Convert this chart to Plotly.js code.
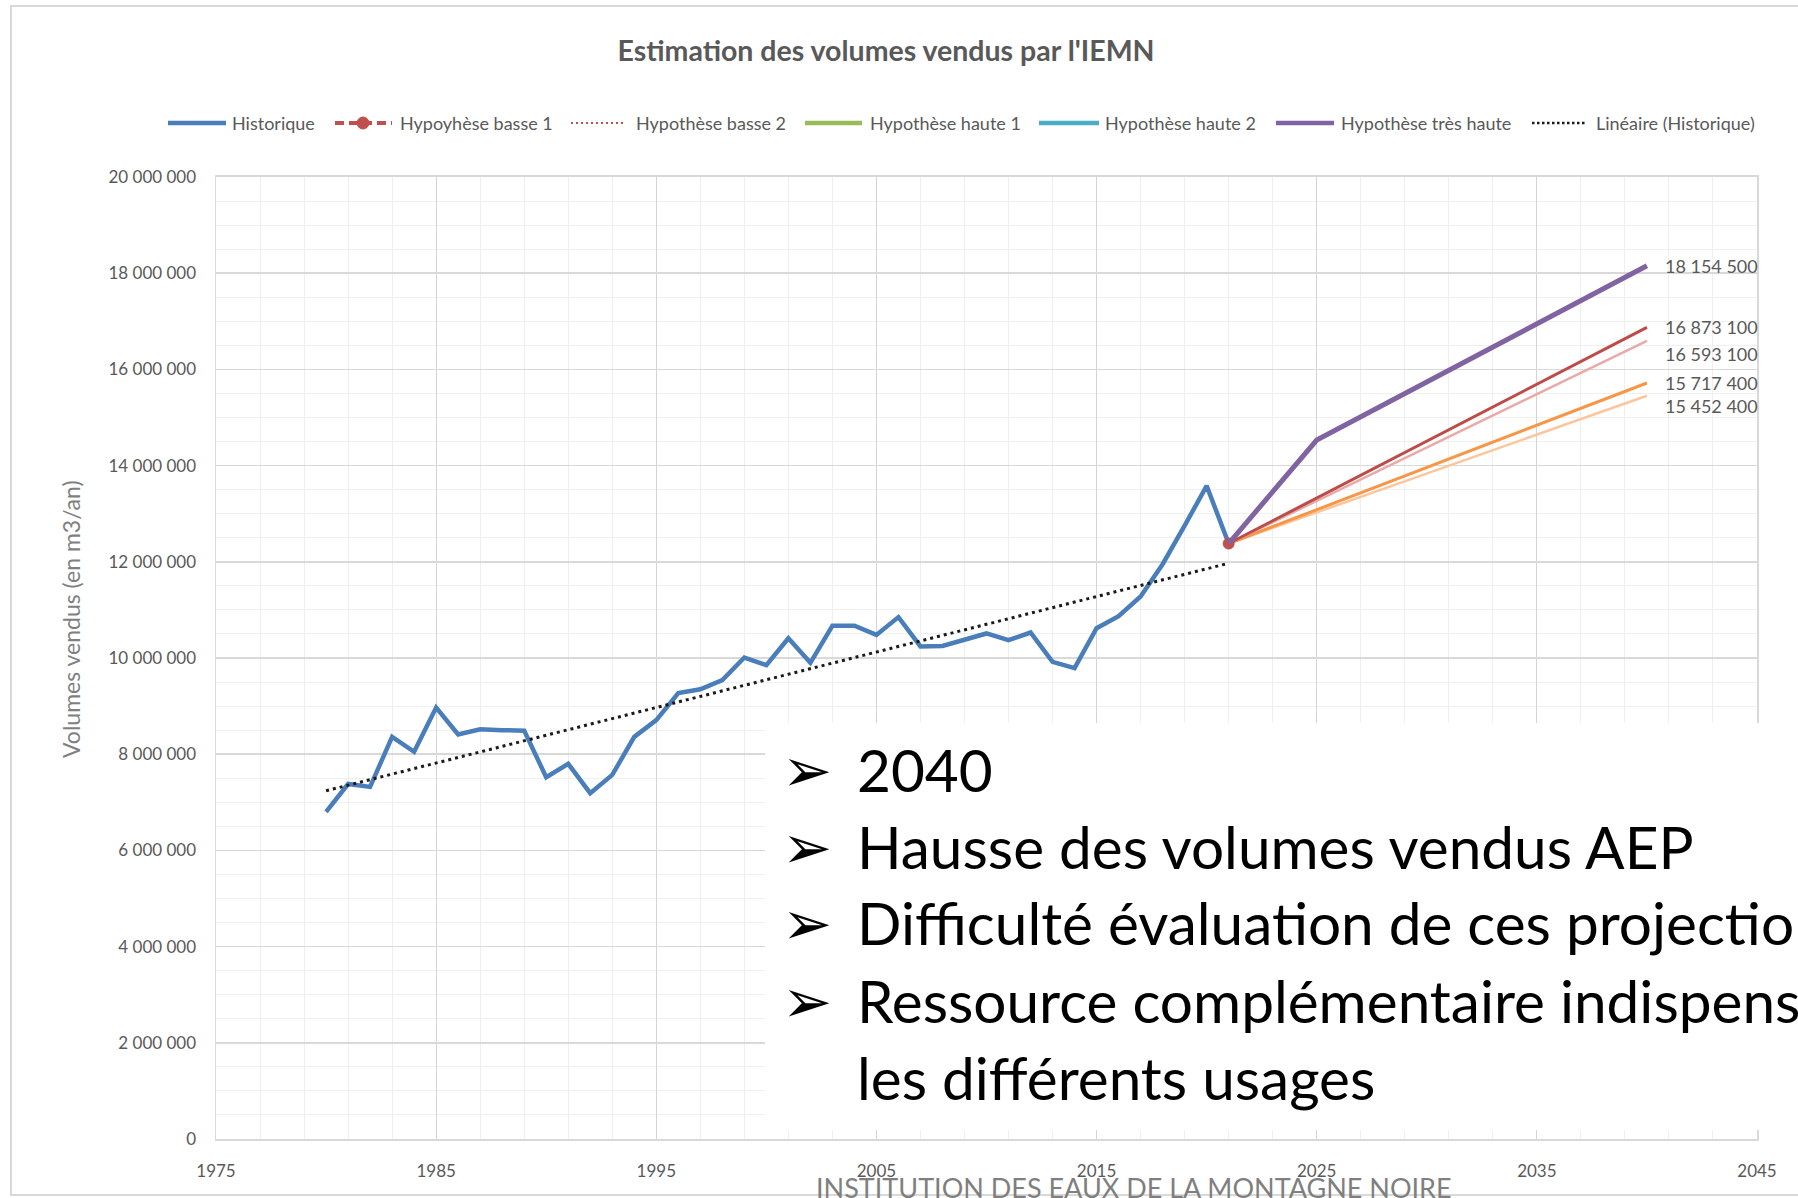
<!DOCTYPE html>
<html>
<head>
<meta charset="utf-8">
<script src="https://cdn.plot.ly/plotly-3.0.1.min.js"></script>
<style>html,body{margin:0;padding:0;overflow:hidden;background:#fff}#chart{width:1798px;height:1198px}</style>
</head>
<body>
<div id="chart"></div>
<script>
// ---------- DATA ----------
const histYears = [1980,1981,1982,1983,1984,1985,1986,1987,1988,1989,1990,1991,1992,1993,1994,1995,1996,1997,1998,1999,2000,2001,2002,2003,2004,2005,2006,2007,2008,2009,2010,2011,2012,2013,2014,2015,2016,2017,2018,2019,2020,2021];
const historique = [6800000,7380000,7320000,8360000,8050000,8970000,8410000,8520000,8500000,8490000,7520000,7800000,7190000,7570000,8360000,8710000,9270000,9350000,9540000,10010000,9850000,10410000,9900000,10670000,10670000,10480000,10850000,10240000,10250000,10390000,10510000,10370000,10530000,9920000,9790000,10620000,10870000,11280000,11950000,12750000,13580000,12380000];
const trendYears = [1980, 2021];
const trendValues = [7240000, 11970000];
const tresHauteYears = [2021, 2025, 2040];
const tresHaute = [12380000, 14530000, 18154500];
const scenarioYears = [2021, 2040];
const scenarioA = [12380000, 16873100];
const scenarioB = [12380000, 16593100];
const scenarioC = [12380000, 15717400];
const scenarioD = [12380000, 15452400];
const startYear = [2021];
const startValue = [12380000];
const legendNames = ['Historique','Hypoyhèse basse 1','Hypothèse basse 2','Hypothèse haute 1','Hypothèse haute 2','Hypothèse très haute','Linéaire (Historique)'];
const bullets = ['2040','Hausse des volumes vendus AEP','Difficulté évaluation de ces projections','Ressource complémentaire indispensable pour','les différents usages'];
const chartTitle = "Estimation des volumes vendus par l'IEMN";
const yTitle = 'Volumes vendus (en m3/an)';
const footer = 'INSTITUTION DES EAUX DE LA MONTAGNE NOIRE';

// ---------- LAYOUT HELPERS ----------
const L = 216, R = 1757, T = 177, B = 1139;
const pX = p => (p - L) / (R - L);
const pY = p => (B - p) / (B - T);
const fmt = v => String(v).replace(/\B(?=(\d{3})+(?!\d))/g, ' ');
const FONT = 'Lato, "Open Sans", sans-serif';
const GRAY = '#595959';

const traces = [
  {x: histYears, y: historique, mode: 'lines', line: {color: '#4a7ebb', width: 4.5}, showlegend: false, hoverinfo: 'x+y'},
  {x: trendYears, y: trendValues, mode: 'lines', line: {color: '#1a1a1a', width: 3, dash: '3px,4px'}, showlegend: false},
  {x: scenarioYears, y: scenarioD, mode: 'lines', line: {color: '#fbc69d', width: 2.5}, showlegend: false},
  {x: scenarioYears, y: scenarioC, mode: 'lines', line: {color: '#f79646', width: 3}, showlegend: false},
  {x: scenarioYears, y: scenarioB, mode: 'lines', line: {color: '#e8aaa8', width: 2.5}, showlegend: false},
  {x: scenarioYears, y: scenarioA, mode: 'lines', line: {color: '#be4b48', width: 3}, showlegend: false},
  {x: startYear, y: startValue, mode: 'markers', marker: {color: '#c0504d', size: 11, line: {color: '#c0504d', width: 1}}, showlegend: false},
  {x: tresHauteYears, y: tresHaute, mode: 'lines', line: {color: '#8064a2', width: 5}, showlegend: false}
];

// value labels at 2040
const endLabels = [
  {v: tresHaute[2], s: 0}, {v: scenarioA[1], s: 0}, {v: scenarioB[1], s: -13},
  {v: scenarioC[1], s: 0}, {v: scenarioD[1], s: -10}
];

const annotations = [];
endLabels.forEach(o => annotations.push({
  x: 2040, y: o.v, xref: 'x', yref: 'y', text: fmt(o.v), showarrow: false,
  xanchor: 'left', yanchor: 'middle', xshift: 16, yshift: o.s,
  font: {family: FONT, size: 18, color: GRAY}
}));

// y-axis title
annotations.push({x: pX(71), y: pY(619), xref: 'paper', yref: 'paper', text: yTitle, textangle: -90,
  showarrow: false, xanchor: 'center', yanchor: 'middle', font: {family: FONT, size: 23, color: '#7f7f7f'}});

// manual legend
const legStyle = [
  {x0: 168, x1: 226, tx: 230, color: '#4a7ebb', width: 4.5, dash: 'solid'},
  {x0: 335, x1: 392, tx: 398, color: '#c0504d', width: 4, dash: '9px,5px', marker: 363},
  {x0: 571, x1: 625, tx: 634, color: '#c0504d', width: 2, dash: '2px,3px'},
  {x0: 805, x1: 862, tx: 868, color: '#9bbb59', width: 4.5, dash: 'solid'},
  {x0: 1039, x1: 1099, tx: 1103, color: '#4bacc6', width: 4.5, dash: 'solid'},
  {x0: 1276, x1: 1334, tx: 1339, color: '#8064a2', width: 4.5, dash: 'solid'},
  {x0: 1532, x1: 1586, tx: 1594, color: '#1a1a1a', width: 2.5, dash: '2.5px,2.5px'}
];
const LEGY = 123;
const shapes = [];
legStyle.forEach((s, i) => {
  shapes.push({type: 'line', xref: 'paper', yref: 'paper', x0: pX(s.x0), x1: pX(s.x1), y0: pY(LEGY), y1: pY(LEGY),
    line: {color: s.color, width: s.width, dash: s.dash}});
  if (s.marker) shapes.push({type: 'circle', xref: 'paper', yref: 'paper', x0: pX(s.marker - 6), x1: pX(s.marker + 6),
    y0: pY(LEGY + 6), y1: pY(LEGY - 6), fillcolor: s.color, line: {color: s.color, width: 1}});
  annotations.push({x: pX(s.tx), y: pY(LEGY), xref: 'paper', yref: 'paper', text: legendNames[i], showarrow: false,
    xanchor: 'left', yanchor: 'middle', font: {family: FONT, size: 18, color: GRAY}});
});

// outer border of chart
shapes.push({type: 'rect', xref: 'paper', yref: 'paper', x0: pX(11), x1: pX(1820), y0: pY(1195), y1: pY(6),
  line: {color: '#d9d9d9', width: 2}, fillcolor: 'rgba(0,0,0,0)', layer: 'below'});
// white text box over the plot
shapes.push({type: 'rect', xref: 'paper', yref: 'paper', x0: pX(765), x1: pX(1820), y0: pY(1130), y1: pY(723),
  line: {width: 0}, fillcolor: '#ffffff', layer: 'above'});

// bullets
const bulletBase = [791, 868, 944, 1022, 1099];
bullets.forEach((t, i) => {
  const yc = bulletBase[i] - 22;
  if (i < 4) annotations.push({x: pX(807), y: pY(yc + 1), xref: 'paper', yref: 'paper', text: '\u27A2', showarrow: false,
    xanchor: 'center', yanchor: 'middle', font: {family: '"DejaVu Sans", sans-serif', size: 60, color: '#000'}});
  annotations.push({x: pX(855), y: pY(yc), xref: 'paper', yref: 'paper', text: t, showarrow: false,
    xanchor: 'left', yanchor: 'middle', font: {family: FONT, size: 58.5, color: '#000'}});
});

// footer
annotations.push({x: pX(1134), y: pY(1187), xref: 'paper', yref: 'paper', text: footer, showarrow: false,
  xanchor: 'center', yanchor: 'middle', font: {family: FONT, size: 27, color: '#7f7f7f'}});

const layout = {
  width: 1798, height: 1198,
  margin: {l: L, r: 1798 - R, t: T, b: 1198 - B, pad: 0},
  paper_bgcolor: '#ffffff', plot_bgcolor: '#ffffff',
  separators: ', ',
  showlegend: false,
  title: {text: chartTitle, x: 886 / 1798, xref: 'container', xanchor: 'center', y: 1 - 51 / 1198, yref: 'container', yanchor: 'middle',
    font: {family: FONT, size: 28.5, color: GRAY, weight: 'bold'}},
  xaxis: {range: [1975, 2045], tick0: 1975, dtick: 10, showgrid: true, gridcolor: '#d4d4d4', gridwidth: 1,
    minor: {dtick: 2, tick0: 1975, showgrid: true, gridcolor: '#efefef', gridwidth: 1},
    zeroline: false, showline: true, linecolor: '#d9d9d9', linewidth: 2, mirror: true,
    ticks: '', ticklabelstandoff: 16, tickfont: {family: FONT, size: 17, color: GRAY}},
  yaxis: {range: [0, 20000000], dtick: 2000000, tickformat: ',d', showgrid: true, gridcolor: '#d9d9d9', gridwidth: 1.5,
    minor: {dtick: 500000, showgrid: true, gridcolor: '#f0f0f0', gridwidth: 1},
    zeroline: false, showline: true, linecolor: '#d9d9d9', linewidth: 1.5, mirror: true,
    ticks: '', ticklabelstandoff: 15, tickfont: {family: FONT, size: 17, color: GRAY}},
  shapes: shapes,
  annotations: annotations
};

Plotly.newPlot('chart', traces, layout, {displayModeBar: false, staticPlot: true});
</script>
</body>
</html>
